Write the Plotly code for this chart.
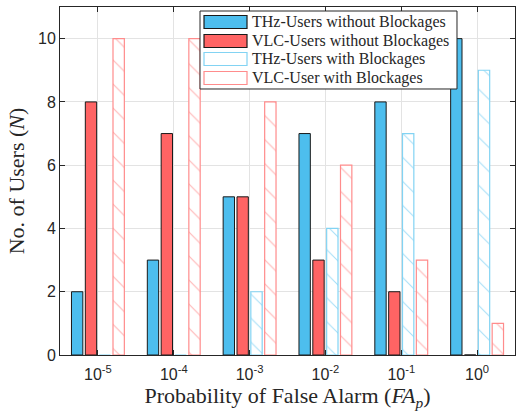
import plotly.graph_objects as go

# Categories: probability of false alarm
fa_labels = ["10<sup>-5</sup>", "10<sup>-4</sup>", "10<sup>-3</sup>",
             "10<sup>-2</sup>", "10<sup>-1</sup>", "10<sup>0</sup>"]
positions = [1, 2, 3, 4, 5, 6]

# Number of users per scheme
thz_no_block = [2, 3, 5, 7, 8, 10]
vlc_no_block = [8, 7, 5, 3, 2, 0]
thz_block = [0, 0, 2, 4, 7, 9]
vlc_block = [10, 10, 8, 6, 3, 1]

series_names = ["THz-Users without Blockages", "VLC-Users without Blockages",
                "THz-Users with Blockages", "VLC-User with Blockages"]

BLUE = "#4DBEEE"
RED = "#FF6464"
BLUE_LIGHT = "#82D3F3"
RED_LIGHT = "#FF8C8C"
EDGE = "#1a1a1a"

serif = "Times New Roman, Liberation Serif, DejaVu Serif, serif"
sans = "Arial, Liberation Sans, Helvetica, sans-serif"
INK = "#262626"

fig = go.Figure()
fig.add_trace(go.Bar(x=positions, y=thz_no_block, name=series_names[0],
                     marker=dict(color=BLUE, line=dict(color=EDGE, width=1))))
fig.add_trace(go.Bar(x=positions, y=vlc_no_block, name=series_names[1],
                     marker=dict(color=RED, line=dict(color=EDGE, width=1))))
fig.add_trace(go.Bar(x=positions, y=thz_block, name=series_names[2],
                     marker=dict(color="white", line=dict(color=BLUE_LIGHT, width=1.2),
                                 pattern=dict(shape="\\", fgcolor=BLUE, bgcolor="white",
                                              size=17, solidity=0.06))))
fig.add_trace(go.Bar(x=positions, y=vlc_block, name=series_names[3],
                     marker=dict(color="white", line=dict(color=RED_LIGHT, width=1.2),
                                 pattern=dict(shape="\\", fgcolor=RED, bgcolor="white",
                                              size=17, solidity=0.06))))

# Boxed legend with wide rectangular swatches (drawn in plot-domain coordinates)
box = dict(x0=0.3077, x1=0.8725, y0=0.7644, y1=0.9885)
row_y = [0.9569, 0.9023, 0.8506, 0.7960]
sw_fill = [BLUE, RED, "white", "white"]
sw_line = [EDGE, EDGE, BLUE_LIGHT, RED_LIGHT]
shapes = [dict(type="rect", xref="paper", yref="paper", layer="above",
               fillcolor="white", line=dict(color=INK, width=1), **box)]
annotations = []
for name, yc, fc, lc in zip(series_names, row_y, sw_fill, sw_line):
    shapes.append(dict(type="rect", xref="paper", yref="paper", layer="above",
                       x0=0.3165, x1=0.4110, y0=yc - 0.0187, y1=yc + 0.0187,
                       fillcolor=fc, line=dict(color=lc, width=1.2)))
    annotations.append(dict(text=name, xref="paper", yref="paper", x=0.4176, y=yc,
                            xanchor="left", yanchor="middle", showarrow=False,
                            font=dict(family=serif, size=16, color=INK)))

fig.update_layout(
    width=517, height=411,
    margin=dict(l=60, r=2, t=7, b=56),
    plot_bgcolor="white", paper_bgcolor="white",
    barmode="group", bargap=0.27, bargroupgap=0.18,
    showlegend=False,
    shapes=shapes, annotations=annotations,
    font=dict(family=sans, size=16, color=INK),
    xaxis=dict(tickmode="array", tickvals=positions, ticktext=fa_labels,
               range=[0.5, 6.5], showgrid=True, gridcolor="#e3e3e3",
               showline=True, linecolor=INK, mirror="ticks",
               ticks="inside", ticklen=5, tickcolor=INK,
               ticklabelstandoff=5,
               tickfont=dict(family=sans, size=16, color=INK),
               title=dict(text="Probability of False Alarm (<i>FA<sub>p</sub></i>)",
                          font=dict(family=serif, size=22, color=INK),
                          standoff=5)),
    yaxis=dict(range=[0, 11], tickvals=[0, 2, 4, 6, 8, 10],
               showgrid=True, gridcolor="#e3e3e3", zeroline=False,
               showline=True, linecolor=INK, mirror="ticks",
               ticks="inside", ticklen=5, tickcolor=INK,
               tickfont=dict(family=sans, size=16, color=INK),
               title=dict(text="No. of Users (<i>N</i>)",
                          font=dict(family=serif, size=22, color=INK),
                          standoff=7)),
)

fig.write_html("out.html")
